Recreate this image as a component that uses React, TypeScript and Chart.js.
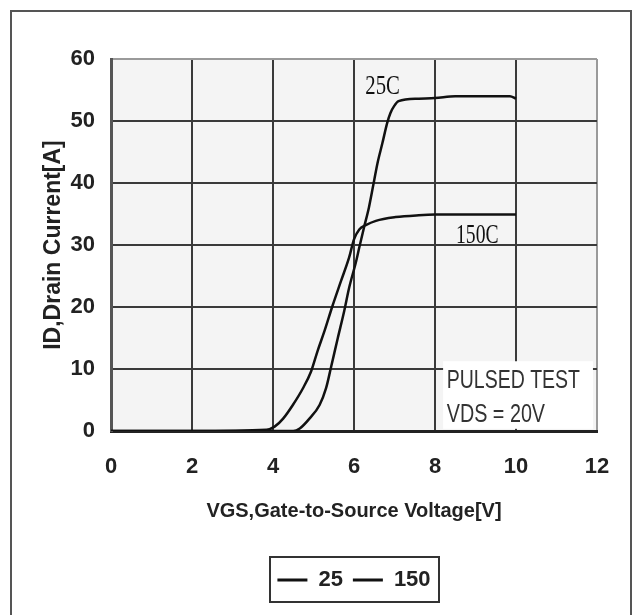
import React, { useEffect, useRef } from "react";
import { Chart, registerables } from "chart.js";

Chart.register(...registerables);

// ---- data ----
const vgs25 = [0, 2, 4, 4.5, 4.66, 4.9, 5.15, 5.31, 5.43, 5.6, 5.76, 5.88, 6.05, 6.13, 6.25, 6.37, 6.5, 6.58, 6.7, 6.82, 6.9, 6.99, 7.1, 7.6, 8.0, 8.5, 9.0, 9.5, 9.85, 10];
const id25 = [0, 0, 0, 0, 0.4, 2.0, 4.2, 6.9, 10.2, 15.0, 19.4, 23.1, 27.3, 29.6, 32.9, 36.1, 40.5, 43.2, 46.4, 49.7, 51.3, 52.4, 53.2, 53.6, 53.7, 54.0, 54.0, 54.0, 54.0, 53.6];
const vgs150 = [0, 2, 3.84, 4.04, 4.25, 4.49, 4.74, 4.94, 5.1, 5.27, 5.47, 5.68, 5.88, 6.0, 6.13, 6.29, 6.54, 7.03, 7.6, 8.0, 9.0, 10];
const id150 = [0, 0, 0.2, 0.7, 2.0, 4.2, 6.9, 9.6, 12.9, 16.1, 20.2, 24.2, 28.0, 30.9, 32.5, 33.2, 33.9, 34.5, 34.8, 34.9, 34.9, 34.9];
const seriesLabels = ["25", "150"];
const curveLabels = ["25C", "150C"];
const noteLines = ["PULSED TEST", "VDS = 20V"];
const xTitle = "VGS,Gate-to-Source Voltage[V]";
const yTitle = "ID,Drain Current[A]";

const SANS = '"Liberation Sans", Arial, sans-serif';
const SERIF = '"Liberation Serif", "Times New Roman", serif';

const toPts = (xs: number[], ys: number[]) => xs.map((x, i) => ({ x, y: ys[i] }));

const decorPlugin = {
  id: "decor",
  beforeDraw(chart: any) {
    const { ctx, chartArea } = chart;
    ctx.save();
    ctx.fillStyle = "#ffffff";
    ctx.fillRect(0, 0, chart.width, chart.height);
    ctx.strokeStyle = "#555";
    ctx.lineWidth = 2;
    ctx.strokeRect(11, 11, 620, 640);
    ctx.fillStyle = "#f4f4f4";
    ctx.fillRect(chartArea.left, chartArea.top, chartArea.right - chartArea.left, chartArea.bottom - chartArea.top);
    ctx.restore();
  },
  afterLayout(chart: any) {
    const lg = chart.legend;
    const ca = chart.chartArea;
    if (!lg) return;
    const dx = (ca.left + ca.right) / 2 - (lg.left + lg.right) / 2;
    lg.left += dx;
    lg.right += dx;
    const h = lg.height;
    lg.top = 559;
    lg.bottom = lg.top + h;
  },
  beforeDatasetsDraw(chart: any) {
    const { ctx, scales } = chart;
    const x = scales.x, y = scales.y;
    const x0 = x.getPixelForValue(8.2), x1 = x.getPixelForValue(11.9);
    const y0 = y.getPixelForValue(11.25), y1 = y.getPixelForValue(0.35);
    ctx.save();
    ctx.fillStyle = "#ffffff";
    ctx.fillRect(x0, y0, x1 - x0, y1 - y0);
    ctx.restore();
  },
  afterDatasetsDraw(chart: any) {
    const { ctx, scales } = chart;
    const x = scales.x, y = scales.y;
    const txt = (s: string, vx: number, vy: number, font: string, sx: number, color: string) => {
      ctx.save();
      ctx.translate(x.getPixelForValue(vx), y.getPixelForValue(vy));
      ctx.scale(sx, 1);
      ctx.font = font;
      ctx.fillStyle = color;
      ctx.textAlign = "left";
      ctx.textBaseline = "alphabetic";
      ctx.fillText(s, 0, 0);
      ctx.restore();
    };
    txt(curveLabels[0], 6.28, 54.3, `28px ${SERIF}`, 0.74, "#111");
    txt(curveLabels[1], 8.52, 30.3, `28px ${SERIF}`, 0.7, "#111");
    txt(noteLines[0], 8.29, 7.0, `26px ${SANS}`, 0.75, "#333");
    txt(noteLines[1], 8.29, 1.5, `26px ${SANS}`, 0.76, "#333");
  },
  afterDraw(chart: any) {
    const lg = chart.legend;
    const ca = chart.chartArea;
    if (!lg) return;
    const ctx = chart.ctx;
    const cx = (ca.left + ca.right) / 2;
    const w = lg.lineWidths[0] - 10;
    ctx.save();
    ctx.strokeStyle = "#333";
    ctx.lineWidth = 2;
    ctx.strokeRect(Math.round(cx - w / 2 - 7), 557, Math.round(w + 16), 45);
    ctx.restore();
  },
};

export default function App() {
  const ref = useRef<HTMLCanvasElement>(null);
  useEffect(() => {
    document.body.style.margin = "0";
    const canvas = ref.current!;
    const chart = new Chart(canvas, {
      type: "line",
      data: {
        datasets: [
          {
            label: seriesLabels[0],
            data: toPts(vgs25, id25),
            borderColor: "#111",
            backgroundColor: "#111",
            borderWidth: 2.5,
            pointRadius: 0,
            fill: false,
            cubicInterpolationMode: "monotone",
          },
          {
            label: seriesLabels[1],
            data: toPts(vgs150, id150),
            borderColor: "#111",
            backgroundColor: "#111",
            borderWidth: 2.5,
            pointRadius: 0,
            fill: false,
            cubicInterpolationMode: "monotone",
          },
        ],
      },
      options: {
        animation: false,
        responsive: false,
        maintainAspectRatio: false,
        devicePixelRatio: 1,
        layout: { padding: { left: 0, right: 37, top: 59, bottom: 42 } },
        plugins: {
          tooltip: { enabled: false },
          legend: {
            position: "bottom",
            labels: {
              color: "#222",
              font: { family: SANS, size: 22, weight: "bold" },
              boxWidth: 30,
              boxHeight: 3,
              padding: 10,
              generateLabels: (c: any) =>
                Chart.defaults.plugins.legend.labels.generateLabels(c).map((it: any) => ({
                  ...it,
                  fillStyle: "#111",
                  strokeStyle: "#111",
                  lineWidth: 0,
                })),
            },
          },
        },
        scales: {
          x: {
            type: "linear",
            min: 0,
            max: 12,
            afterFit: (s: any) => {
              s.height = 100;
            },
            ticks: {
              stepSize: 2,
              color: "#222",
              padding: 23,
              font: { family: SANS, size: 22, weight: "bold" },
              maxRotation: 0,
            },
            grid: {
              drawTicks: false,
              lineWidth: 2,
              color: (c: any) => (c.tick && c.tick.value === 12 ? "#9a9a9a" : "#3a3a3a"),
            },
            border: { color: "#222", width: 3 },
            title: {
              display: true,
              text: xTitle,
              color: "#222",
              font: { family: SANS, size: 20, weight: "bold" },
              padding: { top: 0, bottom: 8 },
            },
          },
          y: {
            type: "linear",
            min: 0,
            max: 60,
            afterFit: (s: any) => {
              s.width = 111;
            },
            ticks: {
              stepSize: 10,
              color: "#222",
              padding: 16,
              font: { family: SANS, size: 22, weight: "bold" },
            },
            grid: {
              drawTicks: false,
              lineWidth: 2,
              color: (c: any) => (c.tick && c.tick.value === 60 ? "#9a9a9a" : "#3a3a3a"),
            },
            border: { color: "#555", width: 3 },
            title: {
              display: true,
              text: yTitle,
              color: "#222",
              font: { family: SANS, size: 23, weight: "bold" },
              padding: { top: 40, bottom: 0 },
            },
          },
        },
      },
      plugins: [decorPlugin],
    });
    return () => chart.destroy();
  }, []);
  return (
    <div style={{ width: 634, height: 615 }}>
      <canvas ref={ref} width={634} height={615} style={{ display: "block", width: 634, height: 615 }} />
    </div>
  );
}
